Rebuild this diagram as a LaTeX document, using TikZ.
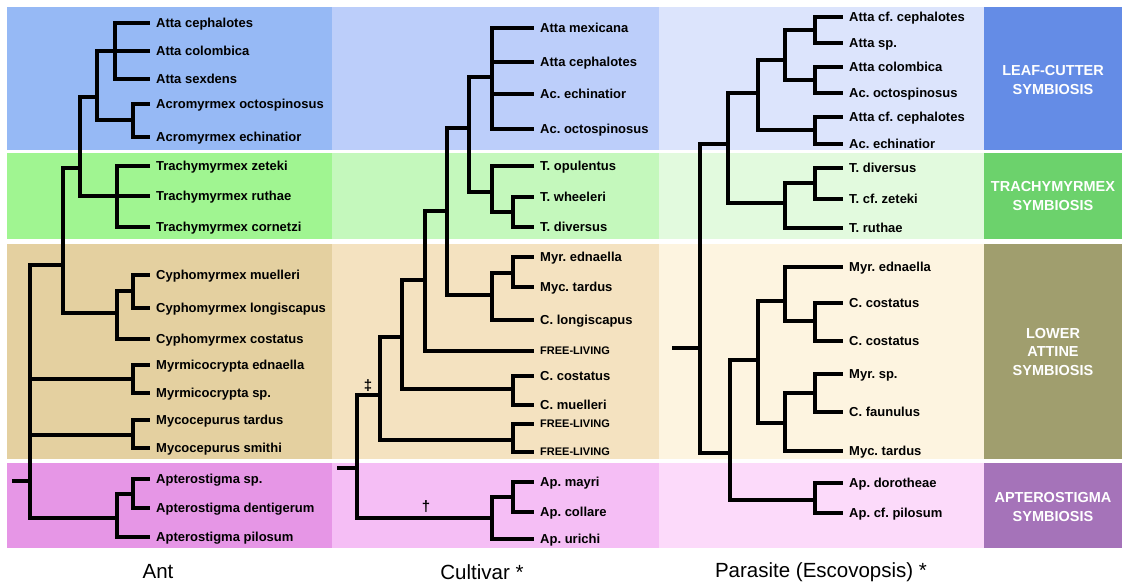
\documentclass[tikz,border=0pt]{standalone}
\usepackage{fontspec}
\setmainfont{Liberation Sans}
\frenchspacing
\usetikzlibrary{positioning}
\definecolor{antblue}{RGB}{150,185,245}
\definecolor{antgreen}{RGB}{160,245,145}
\definecolor{anttan}{RGB}{228,208,160}
\definecolor{antpink}{RGB}{230,150,230}
\definecolor{cultblue}{RGB}{188,206,250}
\definecolor{cultgreen}{RGB}{196,248,188}
\definecolor{culttan}{RGB}{244,226,192}
\definecolor{cultpink}{RGB}{245,190,245}
\definecolor{parablue}{RGB}{220,228,252}
\definecolor{paragreen}{RGB}{226,250,222}
\definecolor{paratan}{RGB}{253,244,224}
\definecolor{parapink}{RGB}{252,218,250}
\definecolor{symblue}{RGB}{100,140,230}
\definecolor{symgreen}{RGB}{108,210,108}
\definecolor{symtan}{RGB}{160,158,110}
\definecolor{sympink}{RGB}{165,115,185}
\tikzset{
  branch/.style={line width=4.8pt, black},
  leaf/.style={anchor=west, inner xsep=6pt, inner ysep=0pt, text height=9.3pt, text depth=0pt,
    font=\fontsize{13}{15}\selectfont\bfseries},
  freeleaf/.style={leaf, text height=7.9pt, font=\fontsize{11}{13}\selectfont\bfseries},
  symbox/.style={text=white, align=center, font=\fontsize{14.5}{18.5}\selectfont\bfseries},
  coltitle/.style={font=\fontsize{20.5}{24}\selectfont},
  dagger/.style={inner sep=0pt, font=\fontsize{15}{17}\selectfont\bfseries},
}

\begin{document}
\begin{tikzpicture}[x=1pt, y=-1pt]
  \useasboundingbox (0,0) rectangle (1122,587);

  % coloured bands
  \foreach \ya/\yb/\c in {7/150/blue, 153/239/green, 244/459/tan, 463/548/pink} {
    \fill[ant\c] (7,\ya) rectangle (332,\yb);
    \fill[cult\c] (332,\ya) rectangle (659,\yb);
    \fill[para\c] (659,\ya) rectangle (984,\yb);
    \fill[sym\c] (984,\ya) rectangle (1122,\yb);
  }
  \node[symbox] (symLeaf) at (1053,80) {LEAF-CUTTER\\SYMBIOSIS};
  \node[symbox] (symTrachy) at (1053,196) {TRACHYMYRMEX\\SYMBIOSIS};
  \node[symbox] (symLower) at (1053,352) {LOWER\\ATTINE\\SYMBIOSIS};
  \node[symbox] (symApt) at (1053,507) {APTEROSTIGMA\\SYMBIOSIS};

  % ant tree
  \foreach \n/\y/\t in {1/23/Atta cephalotes, 2/51/Atta colombica, 3/79/Atta sexdens,
      4/104/Acromyrmex octospinosus, 5/137/Acromyrmex echinatior, 6/166/Trachymyrmex zeteki,
      7/196/Trachymyrmex ruthae, 8/227/Trachymyrmex cornetzi, 9/275/Cyphomyrmex muelleri,
      10/308/Cyphomyrmex longiscapus, 11/339/Cyphomyrmex costatus, 12/365/Myrmicocrypta ednaella,
      13/393/Myrmicocrypta sp., 14/420/Mycocepurus tardus, 15/448/Mycocepurus smithi,
      16/479/Apterostigma sp., 17/508/Apterostigma dentigerum, 18/537/Apterostigma pilosum}
    \node[leaf] (a\n) at (150,\y) {\t};
  \foreach \n/\x/\y in {aAtta/115/51, aAcro/133/120, aLeaf/97/97, aTrachy/117/196,
      aHigher/80/168, aCyphoIn/133/291, aCypho/117/313, aGroup/63/265, aMyrmi/133/379,
      aMyco/133/435, aAptIn/133/494, aApt/117/518, aRoot/30/481, aStub/12/481}
    \coordinate (\n) at (\x,\y);
  \foreach \u/\v in {aAtta/a1, aAtta/a2, aAtta/a3, aAcro/a4, aAcro/a5, aLeaf/aAtta, aLeaf/aAcro,
      aTrachy/a6, aTrachy/a7, aTrachy/a8, aHigher/aLeaf, aHigher/aTrachy, aCyphoIn/a9,
      aCyphoIn/a10, aCypho/aCyphoIn, aCypho/a11, aGroup/aHigher, aGroup/aCypho, aMyrmi/a12,
      aMyrmi/a13, aMyco/a14, aMyco/a15, aAptIn/a16, aAptIn/a17, aApt/aAptIn, aApt/a18,
      aRoot/aGroup, aRoot/aMyrmi, aRoot/aMyco, aRoot/aApt}
    \draw[branch] (\u) |- (\v);
  \draw[branch] (aStub) -- (aRoot);

  % cultivar tree
  \foreach \n/\y/\t in {1/28/Atta mexicana, 2/62/Atta cephalotes, 3/94/Ac. echinatior,
      4/129/Ac. octospinosus, 5/166/T. opulentus, 6/197/T. wheeleri, 7/227/T. diversus,
      8/257/Myr. ednaella, 9/287/Myc. tardus, 10/320/C. longiscapus, 12/376/C. costatus,
      13/405/C. muelleri, 16/482/Ap. mayri, 17/512/Ap. collare, 18/539/Ap. urichi}
    \node[leaf] (c\n) at (534,\y) {\t};
  \foreach \n/\y in {11/351, 14/424, 15/452}
    \node[freeleaf] (c\n) at (534,\y) {FREE-LIVING};
  \foreach \n/\x/\y in {cLeaf/492/77, cTrIn/513/212, cTr/492/192, cHigher/469/128,
      cLowIn/513/273, cLow/492/295, cA/447/211, cB/425/280, cCyIn/513/389, cC/402/337,
      cFree/513/440, cD/380/395, cApIn/513/497, cAp/492/518, cRoot/357/468, cStub/337/468}
    \coordinate (\n) at (\x,\y);
  \foreach \u/\v in {cLeaf/c1, cLeaf/c2, cLeaf/c3, cLeaf/c4, cTrIn/c6, cTrIn/c7, cTr/c5,
      cTr/cTrIn, cHigher/cLeaf, cHigher/cTr, cLowIn/c8, cLowIn/c9, cLow/cLowIn, cLow/c10,
      cA/cHigher, cA/cLow, cB/cA, cB/c11, cCyIn/c12, cCyIn/c13, cC/cB, cC/cCyIn, cFree/c14,
      cFree/c15, cD/cC, cD/cFree, cApIn/c16, cApIn/c17, cAp/cApIn, cAp/c18, cRoot/cD, cRoot/cAp}
    \draw[branch] (\u) |- (\v);
  \draw[branch] (cStub) -- (cRoot);
  \node[dagger] (ddag) at (368,386) {‡};
  \node[dagger] (sdag) at (426,507) {†};

  % parasite tree
  \foreach \n/\y/\t in {1/17/Atta cf. cephalotes, 2/43/Atta sp., 3/67/Atta colombica,
      4/93/Ac. octospinosus, 5/117/Atta cf. cephalotes, 6/144/Ac. echinatior, 7/168/T. diversus,
      8/199/T. cf. zeteki, 9/228/T. ruthae, 10/267/Myr. ednaella, 11/303/C. costatus,
      12/341/C. costatus, 13/374/Myr. sp., 14/412/C. faunulus, 15/451/Myc. tardus,
      16/483/Ap. dorotheae, 17/513/Ap. cf. pilosum}
    \node[leaf] (p\n) at (843,\y) {\t};
  \foreach \n/\x/\y in {pA1/815/30, pA2/815/80, pA/785/60, pA3/815/130, pB/758/93,
      pT1/815/183, pT/785/203, pLC/728/144, pL1/815/321, pL2/785/301, pL3/815/393,
      pL4/785/423, pL/758/360, pAp/815/500, pLA/730/453, pRoot/700/348, pStub/672/348}
    \coordinate (\n) at (\x,\y);
  \foreach \u/\v in {pA1/p1, pA1/p2, pA2/p3, pA2/p4, pA/pA1, pA/pA2, pA3/p5, pA3/p6, pB/pA,
      pB/pA3, pT1/p7, pT1/p8, pT/pT1, pT/p9, pLC/pB, pLC/pT, pL2/p10, pL1/p11, pL1/p12,
      pL2/pL1, pL3/p13, pL3/p14, pL4/pL3, pL4/p15, pL/pL2, pL/pL4, pAp/p16, pAp/p17,
      pLA/pL, pLA/pAp, pRoot/pLC, pRoot/pLA}
    \draw[branch] (\u) |- (\v);
  \draw[branch] (pStub) -- (pRoot);

  \node[coltitle] (antTitle) at (158,572) {Ant};
  \node[coltitle] (cultTitle) at (482,572) {Cultivar *};
  \node[coltitle] (paraTitle) at (821,572) {Parasite (Escovopsis) *};
\end{tikzpicture}
\end{document}
